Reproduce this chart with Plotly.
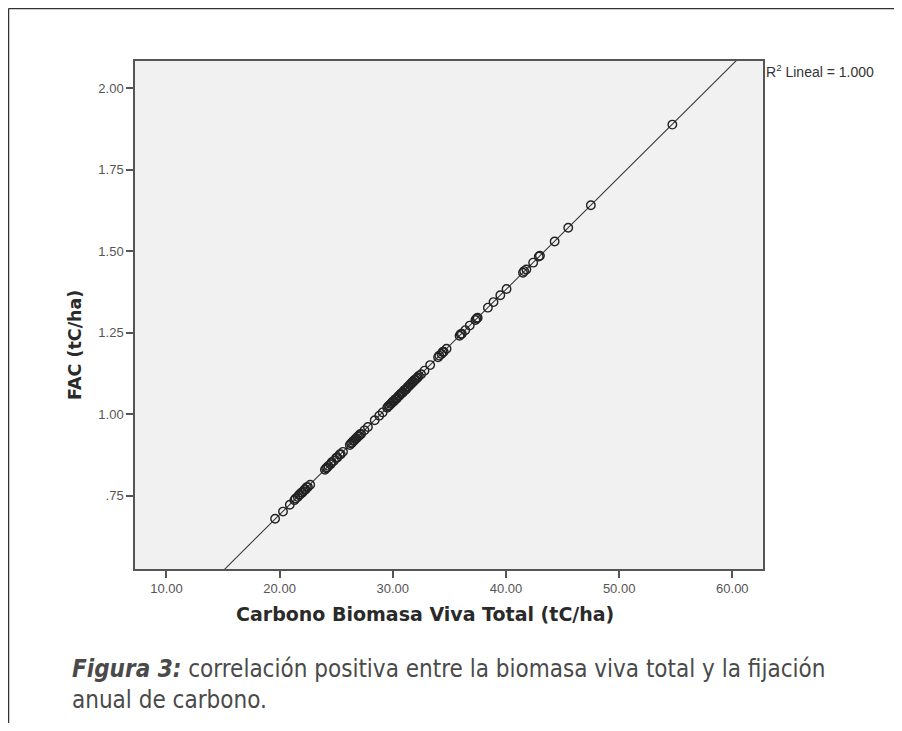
import numpy as np
import plotly.graph_objects as go

# Carbono Biomasa Viva Total (tC/ha)
carbono = [19.6, 20.3, 20.9, 21.3, 21.6, 21.8, 22.0, 22.1, 22.3, 22.5, 22.7,
           24.0, 24.2, 24.5, 24.8, 25.1, 25.4, 25.6,
           26.2, 26.4, 26.6, 26.8, 27.0, 27.2, 27.5, 27.8,
           28.4, 28.8, 29.1, 29.5, 29.7, 29.9, 30.1, 30.3, 30.4, 30.6, 30.8,
           30.9, 31.1, 31.2, 31.4, 31.6, 31.8, 32.0, 32.2, 32.5, 32.8, 33.3,
           34.0, 34.3, 34.5, 34.75, 35.9, 36.1, 36.4, 36.8, 37.3, 37.5,
           38.4, 38.9, 39.5, 40.05, 41.5, 41.8, 42.4, 43.0, 44.3, 45.5, 47.5, 54.7,
           21.4, 21.7, 21.9, 22.2, 22.4, 24.1, 24.3, 24.6, 25.0, 25.3,
           26.3, 26.5, 26.7, 26.9, 27.1, 29.6, 29.8, 30.0, 30.2, 30.5,
           30.7, 31.0, 31.3, 31.5, 31.7, 31.9, 32.1, 32.3, 34.1, 34.4,
           36.0, 37.4, 41.6, 42.9]
# FAC (tC/ha)
fac = [0.680, 0.702, 0.723, 0.737, 0.747, 0.754, 0.760, 0.764, 0.770, 0.777, 0.784,
       0.830, 0.837, 0.847, 0.858, 0.868, 0.878, 0.885,
       0.906, 0.913, 0.920, 0.927, 0.934, 0.940, 0.951, 0.961,
       0.982, 0.996, 1.006, 1.020, 1.027, 1.034, 1.040, 1.047, 1.051, 1.058, 1.065,
       1.068, 1.075, 1.078, 1.085, 1.092, 1.099, 1.106, 1.113, 1.123, 1.134, 1.151,
       1.175, 1.185, 1.192, 1.201, 1.241, 1.247, 1.258, 1.272, 1.289, 1.296,
       1.327, 1.344, 1.365, 1.384, 1.434, 1.444, 1.465, 1.486, 1.530, 1.572, 1.641, 1.888,
       0.742, 0.753, 0.760, 0.770, 0.777, 0.835, 0.842, 0.853, 0.867, 0.877,
       0.911, 0.918, 0.925, 0.932, 0.939, 1.025, 1.032, 1.039, 1.046, 1.056,
       1.063, 1.074, 1.084, 1.091, 1.098, 1.105, 1.111, 1.118, 1.180, 1.191,
       1.246, 1.294, 1.439, 1.484]

x_ticks = [10, 20, 30, 40, 50, 60]
x_tick_labels = ["10.00", "20.00", "30.00", "40.00", "50.00", "60.00"]
y_ticks = [0.75, 1.00, 1.25, 1.50, 1.75, 2.00]
y_tick_labels = [".75", "1.00", "1.25", "1.50", "1.75", "2.00"]

slope, intercept = np.polyfit(carbono, fac, 1)
line_x = [5.0, 65.0]
line_y = [slope * v + intercept for v in line_x]

# page is shown with an 8px body margin; work in page pixels and shift
OFF = 8
W, H = 902 - OFF, 731 - 16
L, R, T, B = 135 - OFF, 763 - OFF, 61 - OFF, 569 - OFF
pw, ph = R - L, B - T


def px(xp):
    return (xp - OFF - L) / pw


def py(yp):
    return (B - (yp - OFF)) / ph


fig = go.Figure()
fig.add_trace(go.Scatter(x=line_x, y=line_y, mode="lines",
                         line=dict(color="#3a3a3a", width=1.1),
                         hoverinfo="skip", showlegend=False))
fig.add_trace(go.Scatter(x=carbono, y=fac, mode="markers",
                         marker=dict(symbol="circle-open", size=8.5,
                                     color="#222222", line=dict(width=1.4)),
                         cliponaxis=False, showlegend=False))

axis_common = dict(showgrid=False, zeroline=False, showline=True, mirror=True,
                   linecolor="#555555", linewidth=1.5, ticks="outside",
                   ticklen=7, tickwidth=1.5, tickcolor="#555555",
                   tickfont=dict(family="Liberation Sans, Arial", size=13, color="#555555"))

fig.update_xaxes(range=[7.22, 62.71], tickvals=x_ticks, ticktext=x_tick_labels, **axis_common)
fig.update_yaxes(range=[0.526, 2.083], tickvals=y_ticks, ticktext=y_tick_labels, **axis_common)

shapes = [
    dict(type="line", xref="paper", yref="paper", x0=px(8.5), x1=px(902), y0=py(8.5), y1=py(8.5),
         line=dict(color="#333333", width=1.5)),
    dict(type="line", xref="paper", yref="paper", x0=px(8.5), x1=px(8.5), y0=py(8.5), y1=py(731),
         line=dict(color="#333333", width=1.5)),
]

annotations = [
    dict(text="<b>Carbono Biomasa Viva Total (tC/ha)</b>", xref="paper", yref="paper",
         x=px(425), y=py(614), showarrow=False, xanchor="center", yanchor="middle",
         font=dict(family="DejaVu Sans", size=19, color="#2a2a2a")),
    dict(text="<b>FAC (tC/ha)</b>", xref="paper", yref="paper",
         x=px(75), y=py(345), showarrow=False, xanchor="center", yanchor="middle",
         font=dict(family="DejaVu Sans", size=17.5, color="#2a2a2a"), textangle=-90),
    dict(text="R<sup>2</sup> Lineal = 1.000", xref="paper", yref="paper",
         x=px(764), y=py(71), showarrow=False, xanchor="left", yanchor="middle",
         font=dict(family="Liberation Sans, Arial", size=14, color="#333333")),
    dict(text="<b><i>Figura 3:</i></b> correlación positiva entre la biomasa viva total y la fijación<br>anual de carbono.",
         xref="paper", yref="paper", x=px(70), y=py(653), showarrow=False,
         xanchor="left", yanchor="top", align="left",
         font=dict(family="Liberation Sans Narrow, DejaVu Sans Condensed, sans-serif", size=24, color="#4a4a4a")),
]

fig.update_layout(width=W, height=H, margin=dict(l=L, r=W - R, t=T, b=H - B),
                  paper_bgcolor="white", plot_bgcolor="#f0f1f0",
                  shapes=shapes, annotations=annotations, showlegend=False)

fig.write_html("out.html")
